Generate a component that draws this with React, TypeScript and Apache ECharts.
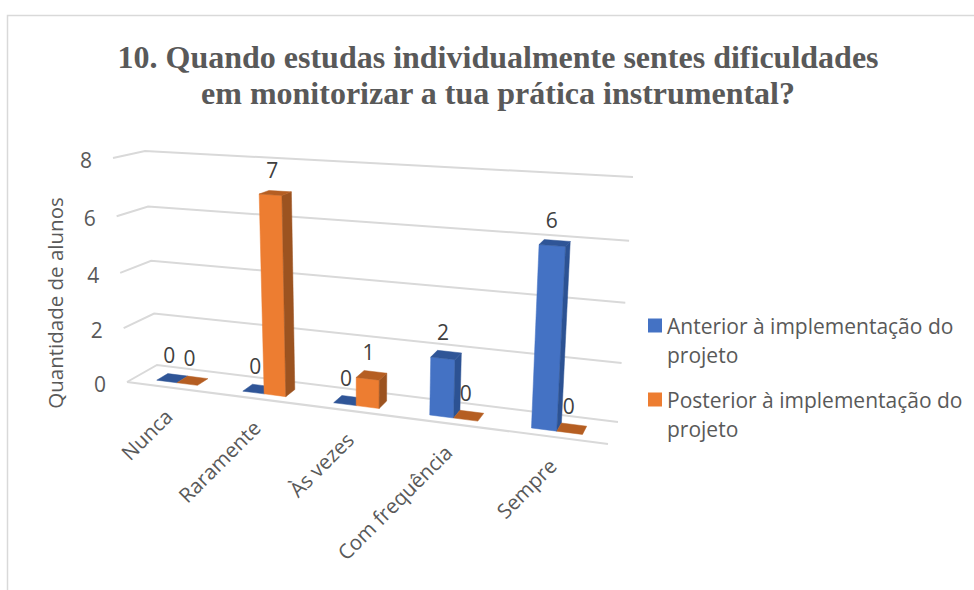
import React, { useEffect, useRef } from "react";
import * as echarts from "echarts";

const titleText = "10. Quando estudas individualmente sentes dificuldades\nem monitorizar a tua prática instrumental?";
const categories = ["Nunca", "Raramente", "Às vezes", "Com frequência", "Sempre"];
const seriesBefore = "Anterior à implementação do\nprojeto";
const seriesAfter = "Posterior à implementação do\nprojeto";
const valuesBefore = [0, 0, 0, 2, 6];
const valuesAfter = [0, 7, 1, 0, 0];
const yTicks = [0, 2, 4, 6, 8];
const yName = "Quantidade de alunos";

const G = { left: 127, right: 618, top: 151, bottom: 455 };
const SANS = "'Open Sans', 'Noto Sans', sans-serif";

// perspective of the 3D plot box
function project(t: number, d: number, v: number): [number, number] {
  const s = (0.869 * t) / (1 - 0.131 * t);
  const vv = (0.95 * v) / (1 - 0.05 * v);
  const fx = 127 + 481 * s, fy = 382 + 62 * s;
  const bx = 157 + 461 * s, by = 365 + 57 * s;
  const hfx = -14 + 29 * s, hfy = -224 - 32 * s;
  const hbx = -12 + 27 * s, hby = -214 - 31 * s;
  return [
    fx + (bx - fx) * d + (hfx + (hbx - hfx) * d) * vv,
    fy + (by - fy) * d + (hfy + (hby - hfy) * d) * vv,
  ];
}

function norm(api: any, i: number, value: number) {
  const p = api.coord([i, value]);
  return {
    t: (p[0] - G.left) / (G.right - G.left),
    v: (G.bottom - p[1]) / ((G.bottom - G.top)),
  };
}

const BAR = 0.048;
const D0 = 0.27;
const D1 = 0.65;

function poly(points: number[][], fill: string) {
  return { type: "polygon", shape: { points }, style: { fill, stroke: fill, lineWidth: 0.5 } };
}

function barRenderer(side: -1 | 1, colors: { front: string; side: string; top: string }) {
  return (_: any, api: any) => {
    const i = api.value(0);
    const val = api.value(1);
    const { t } = norm(api, i, val);
    const v = val / 8;
    const t0 = side < 0 ? t - BAR : t;
    const t1 = side < 0 ? t : t + BAR;
    const children: any[] = [];
    if (val > 0) {
      children.push(
        poly([project(t0, D0, 0), project(t1, D0, 0), project(t1, D0, v), project(t0, D0, v)], colors.front),
        poly([project(t1, D0, 0), project(t1, D1, 0), project(t1, D1, v), project(t1, D0, v)], colors.side),
      );
    }
    children.push(
      poly([project(t0, D0, v), project(t1, D0, v), project(t1, D1, v), project(t0, D1, v)], colors.top),
    );
    const c = project((t0 + t1) / 2, (D0 + D1) / 2, v);
    children.push({
      type: "text",
      x: c[0] - 3,
      y: c[1] - 23,
      style: { text: String(val), fill: "#404040", fontSize: 21, fontFamily: SANS, align: "center", verticalAlign: "middle" },
    });
    return { type: "group", children };
  };
}

function gridRenderer(_: any, api: any) {
  const val = api.value(1);
  const v = val / 8;
  const a = project(0, 0, v);
  const children: any[] = [
    {
      type: "polyline",
      shape: { points: [a, project(0, 1, v), project(1, 1, v)] },
      style: { stroke: "#D9D9D9", lineWidth: 2, fill: "none" },
    },
    {
      type: "text",
      x: a[0] - 27,
      y: a[1] + 2,
      style: { text: String(val), fill: "#595959", fontSize: 21, fontFamily: SANS, align: "center", verticalAlign: "middle" },
    },
  ];
  if (val === 0) {
    children.push({
      type: "line",
      shape: { x1: a[0], y1: a[1], x2: project(1, 0, 0)[0], y2: project(1, 0, 0)[1] },
      style: { stroke: "#D9D9D9", lineWidth: 2 },
    });
  }
  return { type: "group", children };
}

function categoryRenderer(_: any, api: any) {
  const i = api.value(0);
  const { t } = norm(api, i, 0);
  const p = project(t, 0, 0);
  return {
    type: "text",
    x: p[0] - 1,
    y: p[1] + 25,
    rotation: Math.PI / 4,
    style: { text: categories[i], fill: "#595959", fontSize: 20.5, fontFamily: SANS, align: "right", verticalAlign: "middle" },
  };
}

function legendFor(name: string, top: number) {
  return {
    data: [{ name, icon: "rect" }],
    left: 643,
    top,
    orient: "vertical" as const,
    itemWidth: 14,
    itemHeight: 14,
    itemGap: 0,
    selectedMode: false,
    formatter: (n: string) => "\u00a0\n" + n,
    textStyle: { color: "#595959", fontSize: 21, fontFamily: SANS, lineHeight: 29 },
  };
}

export default function App() {
  const ref = useRef<HTMLDivElement>(null);
  useEffect(() => {
    const chart = echarts.init(ref.current!, undefined, { renderer: "svg" });
    chart.setOption({
      animation: false,
      backgroundColor: "#ffffff",
      title: {
        text: titleText,
        left: 493,
        top: 34,
        textAlign: "center",
        textStyle: { fontFamily: "'Liberation Serif', serif", fontWeight: "bold", fontSize: 32, lineHeight: 36, color: "#595959" },
      },
      legend: [legendFor(seriesBefore, 277), legendFor(seriesAfter, 351)],
      grid: { left: G.left, top: G.top, width: G.right - G.left, height: G.bottom - G.top },
      xAxis: { type: "category", data: categories, show: false },
      yAxis: {
        type: "value",
        min: 0,
        max: 8,
        interval: 2,
        name: yName,
        nameLocation: "middle",
        nameRotate: 90,
        nameGap: 62,
        nameTextStyle: { color: "#595959", fontSize: 20.5, fontFamily: SANS },
        axisLine: { show: false },
        axisTick: { show: false },
        axisLabel: { show: false },
        splitLine: { show: false },
      },
      graphic: [
        {
          type: "polyline",
          silent: true,
          z: -1,
          shape: { points: [[7.5, 590], [7.5, 15.5], [974, 15.5]] },
          style: { stroke: "#D9D9D9", lineWidth: 1.5, fill: "none" },
        },
      ],
      series: [
        {
          type: "custom",
          name: "grid",
          coordinateSystem: "cartesian2d",
          clip: false,
          silent: true,
          z: 1,
          data: yTicks.map((v) => [0, v]),
          renderItem: gridRenderer,
        },
        {
          type: "custom",
          name: "categories",
          clip: false,
          silent: true,
          z: 1,
          data: categories.map((_, i) => [i, 0]),
          renderItem: categoryRenderer,
        },
        {
          type: "custom",
          name: seriesBefore,
          clip: false,
          silent: true,
          z: 2,
          itemStyle: { color: "#4472C4" },
          data: valuesBefore.map((v, i) => [i, v]),
          renderItem: barRenderer(-1, { front: "#4472C4", side: "#2C5293", top: "#2F5597" }),
        },
        {
          type: "custom",
          name: seriesAfter,
          clip: false,
          silent: true,
          z: 3,
          itemStyle: { color: "#ED7D31" },
          data: valuesAfter.map((v, i) => [i, v]),
          renderItem: barRenderer(1, { front: "#ED7D31", side: "#9C5320", top: "#B55E22" }),
        },
      ],
    });
    return () => chart.dispose();
  }, []);
  return <div ref={ref} style={{ position: "absolute", left: 0, top: 0, width: 974, height: 590 }} />;
}
